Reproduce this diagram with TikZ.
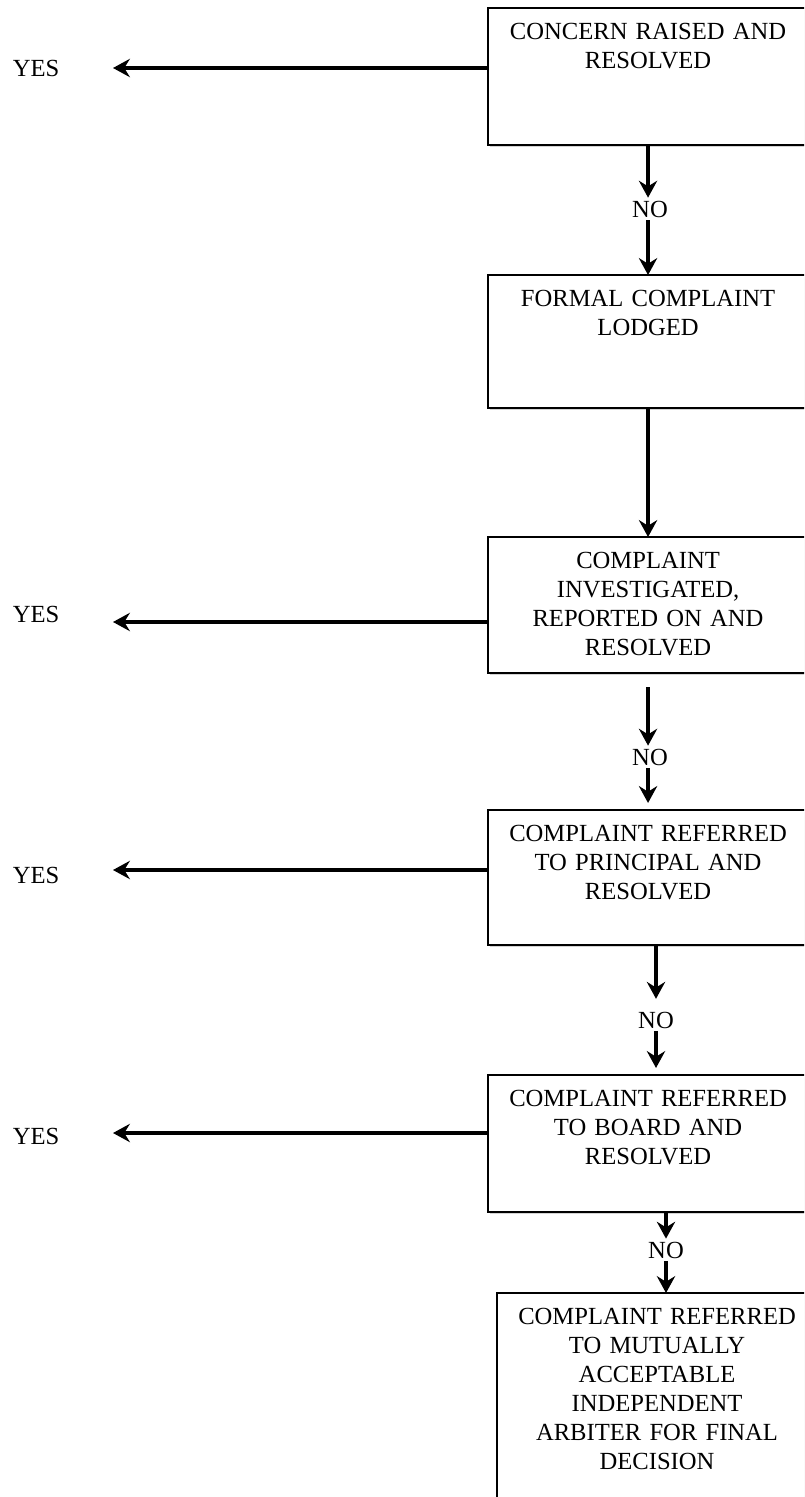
\documentclass[tikz,border=0pt]{standalone}
\usepackage{fontspec}
\setmainfont{Liberation Serif}
\usetikzlibrary{arrows.meta,positioning,shadows}

\tikzset{
  stepbox/.style={draw, line width=1.1pt, fill=white, anchor=north west,
    minimum width=8cm, inner sep=0pt, outer sep=0pt,
    drop shadow={shadow xshift=1.2pt, shadow yshift=-1.2pt, opacity=.35}},
  steptext/.style={anchor=north, text width=7.6cm, align=center, inner sep=0pt,
    font=\fontsize{17.5}{20.6}\selectfont},
  answer/.style={inner sep=2pt, font=\fontsize{17.5}{20.6}\selectfont},
  flow/.style={line width=3pt, -{Stealth[length=12pt,width=13pt,inset=4pt]}},
  yesflow/.style={line width=2.2pt, -{Stealth[length=12pt,width=13pt,inset=4pt]}},
}

\begin{document}
\begin{tikzpicture}[x=0.025cm,y=-0.025cm]
\useasboundingbox (0,0) rectangle (804,1497);
\clip (0,0) rectangle (804,1497);

% The steps of the procedure, from top to bottom.
\node[stepbox, minimum height=3.425cm] (b1) at (488,8) {};
\node[stepbox, minimum height=3.325cm] (b2) at (488,275) {};
\node[stepbox, minimum height=3.4cm]   (b3) at (488,537) {};
\node[stepbox, minimum height=3.375cm] (b4) at (488,810) {};
\node[stepbox, minimum height=3.425cm] (b5) at (488,1075) {};
\node[stepbox, minimum height=5.6cm]   (b6) at (497,1293) {};

\node[steptext, below=0.375cm of b1.north] (t1) {CONCERN RAISED AND\\RESOLVED};
\node[steptext, below=0.375cm of b2.north] (t2) {FORMAL COMPLAINT\\LODGED};
\node[steptext, below=0.375cm of b3.north] (t3) {COMPLAINT\\INVESTIGATED,\\REPORTED ON AND\\RESOLVED};
\node[steptext, below=0.375cm of b4.north] (t4) {COMPLAINT REFERRED\\TO PRINCIPAL AND\\RESOLVED};
\node[steptext, below=0.375cm of b5.north] (t5) {COMPLAINT REFERRED\\TO BOARD AND\\RESOLVED};
\node[steptext, below=0.375cm of b6.north] (t6) {COMPLAINT REFERRED\\TO MUTUALLY\\ACCEPTABLE\\INDEPENDENT\\ARBITER FOR FINAL\\DECISION};

% Answers.
\node[answer] (yes1) at (36,68) {YES};
\node[answer] (yes3) at (36,614) {YES};
\node[answer] (yes4) at (36,875) {YES};
\node[answer] (yes5) at (36,1136) {YES};

\node[answer] (no1) at (650,209) {NO};
\node[answer] (no2) at (650,757) {NO};
\node[answer] (no3) at (656,1020) {NO};
\node[answer] (no4) at (666,1250) {NO};

% Free ends of the YES arrows.
\coordinate (y1) at (113,68);
\coordinate (y3) at (113,622);
\coordinate (y4) at (113,870);
\coordinate (y5) at (113,1133);

\draw[yesflow] (b1.west |- y1) -- (y1);
\draw[yesflow] (b3.west |- y3) -- (y3);
\draw[yesflow] (b4.west |- y4) -- (y4);
\draw[yesflow] (b5.west |- y5) -- (y5);

% Down the NO branch.
\draw[flow] (b1.south) -- (b1.south |- no1.north);
\draw[flow] (b1.south |- no1.south) -- (b2.north);
\draw[flow] (b2.south) -- (b3.north);
\draw[flow, shorten <=10pt] (b3.south) -- (b3.south |- no2.north);
\draw[flow, shorten >=5pt] (b3.south |- no2.south) -- (b4.north);
\draw[flow, shorten >=7pt] (b4.south -| no3) -- (no3.north);
\draw[flow, shorten >=5pt] (no3.south) -- (no3.south |- b5.north);
\draw[flow] (b5.south -| no4) -- (no4.north);
\draw[flow] (no4.south) -- (no4.south |- b6.north);

\end{tikzpicture}
\end{document}
